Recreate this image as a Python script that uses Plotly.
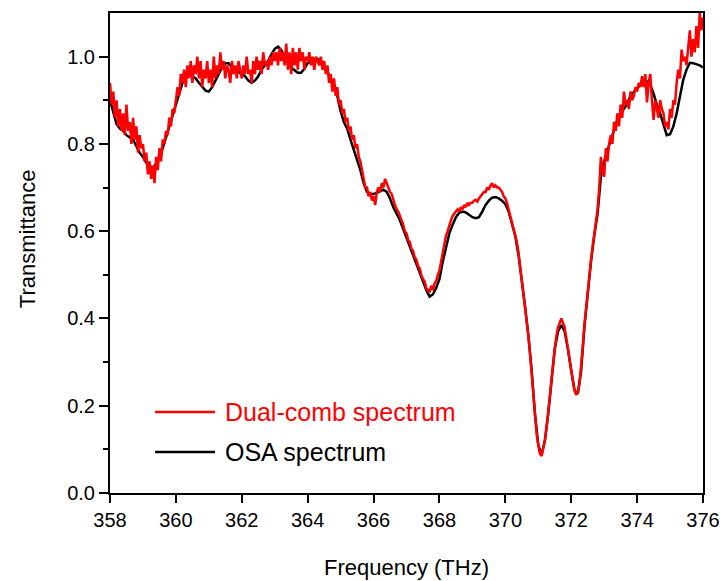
import plotly.graph_objects as go

# OSA spectrum (black), sampled every 0.1 THz from 358.0 to 376.0
osa_start = 358.0
osa_step = 0.1
osa_values = [
    0.90, 0.87, 0.845, 0.835, 0.83, 0.82, 0.815, 0.81, 0.795, 0.78,
    0.77, 0.757, 0.75, 0.745, 0.755, 0.77, 0.79, 0.815, 0.84, 0.865,
    0.89, 0.915, 0.94, 0.955, 0.96, 0.955, 0.95, 0.94, 0.93, 0.922,
    0.92, 0.93, 0.945, 0.96, 0.975, 0.985, 0.985, 0.975, 0.97, 0.965,
    0.96, 0.955, 0.945, 0.94, 0.945, 0.955, 0.97, 0.98, 0.99, 1.005,
    1.018, 1.023, 1.015, 1.0, 0.985, 0.975, 0.968, 0.963, 0.963, 0.972,
    0.985, 0.99, 0.993, 0.995, 0.99, 0.98, 0.965, 0.95, 0.935, 0.91,
    0.875, 0.85, 0.835, 0.81, 0.787, 0.765, 0.74, 0.71, 0.69, 0.685,
    0.685, 0.688, 0.692, 0.695, 0.69, 0.675, 0.655, 0.64, 0.625, 0.605,
    0.585, 0.565, 0.545, 0.525, 0.505, 0.485, 0.465, 0.45, 0.455, 0.47,
    0.49, 0.53, 0.565, 0.595, 0.615, 0.632, 0.642, 0.645, 0.643, 0.638,
    0.632, 0.63, 0.632, 0.645, 0.66, 0.67, 0.677, 0.678, 0.675, 0.67,
    0.662, 0.645, 0.62, 0.59, 0.545, 0.49, 0.427, 0.36, 0.28, 0.18,
    0.11, 0.087, 0.12, 0.18, 0.26, 0.33, 0.37, 0.385, 0.37, 0.33,
    0.28, 0.235, 0.228, 0.28, 0.38, 0.46, 0.53, 0.59, 0.64, 0.725,
    0.76, 0.785, 0.81, 0.835, 0.855, 0.868, 0.88, 0.893, 0.91, 0.92,
    0.928, 0.935, 0.94, 0.943, 0.935, 0.915, 0.89, 0.87, 0.845, 0.82,
    0.822, 0.84, 0.87, 0.905, 0.947, 0.97, 0.986, 0.985, 0.983, 0.98,
    0.975,
]

# Dual-comb spectrum (red), sampled every 0.05 THz from 358.00 to 376.00
dc_start = 358.0
dc_step = 0.05
dc_values = [
    # 358
    0.94, 0.89, 0.92, 0.86, 0.90, 0.84, 0.88, 0.83, 0.87, 0.82,
    0.89, 0.83, 0.85, 0.80, 0.86, 0.81, 0.84, 0.78, 0.82, 0.79,
    # 359
    0.80, 0.76, 0.78, 0.73, 0.76, 0.72, 0.75, 0.71, 0.77, 0.74,
    0.79, 0.76, 0.81, 0.80, 0.83, 0.82, 0.86, 0.84, 0.88, 0.87,
    # 360
    0.90, 0.93, 0.91, 0.96, 0.94, 0.97, 0.93, 0.98, 0.95, 0.99,
    0.94, 0.98, 0.96, 1.00, 0.95, 0.99, 0.93, 0.97, 0.95, 0.99,
    # 361
    0.94, 0.97, 0.93, 1.00, 0.95, 0.98, 0.96, 1.01, 0.97, 0.99,
    0.95, 0.98, 0.97, 0.94, 0.99, 0.96, 0.98, 0.95, 0.99, 0.97,
    # 362
    0.95, 0.98, 0.96, 1.00, 0.96, 0.97, 0.94, 0.99, 0.96, 1.00,
    0.97, 0.99, 0.96, 1.01, 0.98, 0.99, 0.97, 1.00, 0.98, 1.01,
    # 363
    0.99, 1.01, 0.98, 1.02, 0.99, 1.01, 0.98, 1.03, 0.97, 1.01,
    0.96, 1.02, 0.98, 1.01, 0.97, 1.02, 0.99, 1.01, 0.97, 1.00,
    # 364
    0.99, 1.01, 0.98, 1.00, 0.97, 1.00, 0.99, 0.98, 1.00, 0.97,
    0.99, 0.96, 0.98, 0.94, 0.96, 0.92, 0.95, 0.91, 0.93, 0.89,
    # 365
    0.90, 0.87, 0.88, 0.85, 0.86, 0.83, 0.84, 0.81, 0.82, 0.79,
    0.80, 0.77, 0.76, 0.74, 0.72, 0.70, 0.70, 0.68, 0.69, 0.67,
    # 366
    0.68, 0.66, 0.69, 0.70, 0.69, 0.71, 0.70, 0.72, 0.71, 0.70,
    0.69, 0.685, 0.67, 0.66, 0.65, 0.645, 0.635, 0.625, 0.615, 0.60,
    # 367
    0.595, 0.58, 0.575, 0.56, 0.555, 0.54, 0.535, 0.52, 0.515, 0.50,
    0.49, 0.485, 0.47, 0.465, 0.46, 0.475, 0.465, 0.48, 0.485, 0.50,
    # 368
    0.51, 0.53, 0.55, 0.575, 0.59, 0.60, 0.615, 0.625, 0.635, 0.64,
    0.645, 0.65, 0.645, 0.655, 0.65, 0.66, 0.655, 0.665, 0.66, 0.665,
    # 369
    0.665, 0.67, 0.672, 0.668, 0.675, 0.68, 0.685, 0.69, 0.69, 0.70,
    0.695, 0.705, 0.71, 0.70, 0.705, 0.70, 0.70, 0.695, 0.69, 0.68,
    # 370
    0.675, 0.665, 0.65, 0.64, 0.625, 0.61, 0.595, 0.575, 0.55, 0.52,
    0.49, 0.46, 0.43, 0.395, 0.36, 0.32, 0.275, 0.225, 0.175, 0.135,
    # 371
    0.11, 0.09, 0.085, 0.10, 0.12, 0.15, 0.18, 0.22, 0.26, 0.30,
    0.33, 0.36, 0.38, 0.39, 0.40, 0.39, 0.38, 0.355, 0.33, 0.305,
    # 372
    0.28, 0.255, 0.235, 0.225, 0.23, 0.25, 0.285, 0.335, 0.385, 0.425,
    0.465, 0.50, 0.535, 0.565, 0.595, 0.625, 0.65, 0.70, 0.77, 0.74,
    # 373
    0.725, 0.79, 0.76, 0.80, 0.82, 0.80, 0.85, 0.83, 0.87, 0.84,
    0.89, 0.86, 0.92, 0.89, 0.90, 0.88, 0.92, 0.90, 0.91, 0.93,
    # 374
    0.92, 0.94, 0.93, 0.955, 0.93, 0.96, 0.895, 0.94, 0.96, 0.90,
    0.855, 0.90, 0.88, 0.86, 0.90, 0.88, 0.87, 0.84, 0.85, 0.833,
    # 375 - 376
    0.88, 0.86, 0.90, 0.89, 0.94, 0.97, 0.95, 1.016, 0.99, 1.00,
    0.98, 1.03, 1.06, 1.00, 1.04, 1.01, 1.07, 1.02, 1.10, 1.06,
    1.09,
]

x_ticks = [358, 360, 362, 364, 366, 368, 370, 372, 374, 376]
y_ticks = [0.0, 0.2, 0.4, 0.6, 0.8, 1.0]
legend_names = ["Dual-comb spectrum", "OSA spectrum"]
colors = ["#ff0000", "#000000"]

osa_x = [round(osa_start + i * osa_step, 3) for i in range(len(osa_values))]
dc_x = [round(dc_start + i * dc_step, 3) for i in range(len(dc_values))]

FONT = "Arial, 'Liberation Sans', sans-serif"

fig = go.Figure()
fig.add_trace(go.Scatter(x=osa_x, y=osa_values, mode="lines", name=legend_names[1],
                         line=dict(color=colors[1], width=2.5), showlegend=False))
fig.add_trace(go.Scatter(x=dc_x, y=dc_values, mode="lines", name=legend_names[0],
                         line=dict(color=colors[0], width=2.5), showlegend=False))

# manual legend (line sample + label)
legend_rows = [(0.169, legend_names[0], colors[0]), (0.0854, legend_names[1], colors[1])]
for ypos, name, col in legend_rows:
    fig.add_shape(type="line", xref="paper", yref="paper", x0=0.076, x1=0.177,
                  y0=ypos, y1=ypos, line=dict(color=col, width=2.5))
    fig.add_annotation(xref="paper", yref="paper", x=0.19, y=ypos, text=name,
                       showarrow=False, xanchor="left", yanchor="middle",
                       font=dict(family=FONT, size=25, color=col))

fig.add_annotation(xref="paper", yref="paper", x=-0.139, y=0.53, text="Transmittance",
                   textangle=-90, showarrow=False, xanchor="center", yanchor="middle",
                   font=dict(family=FONT, size=22, color="#000000"))

fig.update_layout(
    width=722, height=581,
    margin=dict(l=110, r=19, t=13, b=88, autoexpand=False),
    paper_bgcolor="white", plot_bgcolor="white",
    font=dict(family=FONT, size=20, color="#000000"),
    xaxis=dict(
        range=[358, 376], tickvals=x_ticks, ticks="outside", ticklen=8, tickwidth=2,
        tickcolor="#000000", showline=True, linecolor="#000000", linewidth=2,
        mirror=True, showgrid=False, zeroline=False, automargin=False,
        tickfont=dict(family=FONT, size=20, color="#000000"),
        title=dict(text="Frequency (THz)", standoff=30,
                   font=dict(family=FONT, size=22, color="#000000")),
    ),
    yaxis=dict(
        range=[0, 1.1], tickvals=y_ticks, tickformat=".1f", ticks="outside", ticklen=9,
        tickwidth=2, tickcolor="#000000", showline=True, linecolor="#000000", linewidth=2,
        mirror=True, showgrid=False, zeroline=False, automargin=False,
        tickfont=dict(family=FONT, size=20, color="#000000"),
        minor=dict(tickvals=[0.1, 0.3, 0.5, 0.7, 0.9], ticks="outside", ticklen=5,
                   tickwidth=2, tickcolor="#000000", showgrid=False),
    ),
)

fig.write_html("out.html")
